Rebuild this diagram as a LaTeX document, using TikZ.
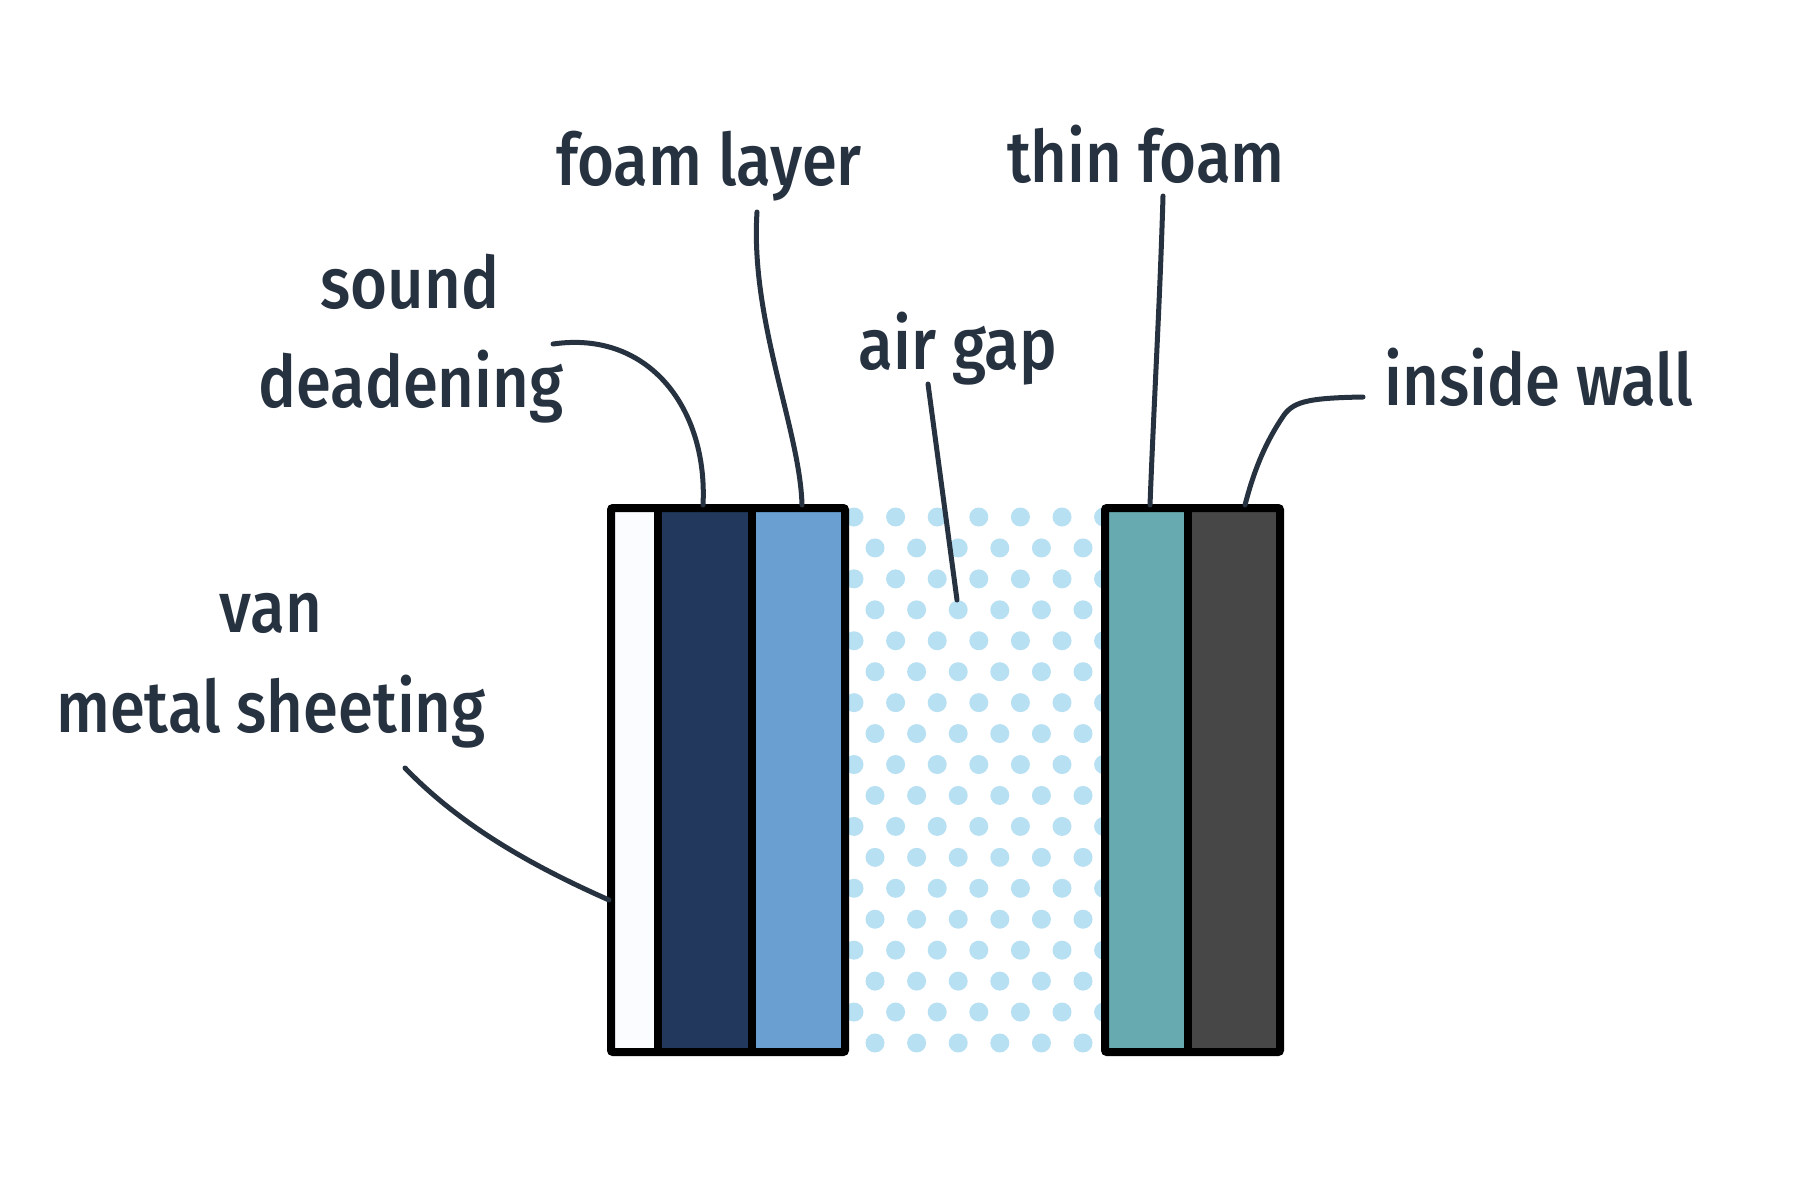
\documentclass[tikz,border=0pt]{standalone}
\usepackage{fontspec}
\newfontfamily\labfont{Fira Sans Medium}[FakeStretch=0.88]
\definecolor{txt}{HTML}{273241}
\definecolor{metalc}{HTML}{FAFCFF}
\definecolor{deadc}{HTML}{22395D}
\definecolor{foamc}{HTML}{6A9FD2}
\definecolor{thinc}{HTML}{67ABB0}
\definecolor{wallc}{HTML}{474747}
\definecolor{dotc}{HTML}{B8E0F3}
\begin{document}
\begin{tikzpicture}[x=0.01cm,y=-0.01cm,
  lab/.style={font=\labfont\fontsize{20.5}{24}\selectfont, text=txt, anchor=base, inner sep=0pt},
  leader/.style={draw=txt, line width=0.05cm, line cap=round},
  border/.style={draw=black, line width=0.08cm, rounded corners=0.02cm},
  divider/.style={draw=black, line width=0.08cm}]
\useasboundingbox (0,0) rectangle (1800,1200);
\fill[white] (0,0) rectangle (1800,1200);
% air gap dots
\begin{scope}
  \clip (845,495) rectangle (1105,1065);
  \foreach \r in {0,...,17}{
    \pgfmathsetmacro{\yy}{517+\r*30.94}
    \pgfmathsetmacro{\xs}{ifthenelse(mod(\r,2)==0,854,875)}
    \foreach \k in {0,...,6}{
      \fill[dotc] ({\xs+\k*41.6},\yy) circle[radius=9.5];
    }
  }
\end{scope}
% left stack
\fill[metalc] (611,508) rectangle (658,1052);
\fill[deadc] (658,508) rectangle (752,1052);
\fill[foamc] (752,508) rectangle (845,1052);
\draw[divider] (658,508) -- (658,1052);
\draw[divider] (752,508) -- (752,1052);
\draw[border] (611,508) rectangle (845,1052);
% right stack
\fill[thinc] (1105,508) rectangle (1188,1052);
\fill[wallc] (1188,508) rectangle (1280,1052);
\draw[divider] (1188,508) -- (1188,1052);
\draw[border] (1105,508) rectangle (1280,1052);
% labels
\node[lab] (foam) at (709,185) {foam layer};
\node[lab] (thin) at (1146,182) {thin foam};
\node[lab] (sound) at (410,308) {sound};
\node[lab] (dead) at (411,407) {deadening};
\node[lab] (air) at (958,369) {air gap};
\node[lab] (wall) at (1539,405) {inside wall};
\node[lab] (van) at (271,632) {van};
\node[lab] (metal) at (271,732) {metal sheeting};
% connector end points
\coordinate (deadS) at (553,344);
\coordinate (deadE) at (703,505);
\coordinate (foamS) at (757,212);
\coordinate (foamE) at (802,505);
\coordinate (airS) at (928,384);
\coordinate (airE) at (957,600);
\coordinate (thinS) at (1163,196);
\coordinate (thinE) at (1150,505);
\coordinate (wallS) at (1363,397);
\coordinate (wallE) at (1245,505);
\coordinate (metalS) at (405,768);
\coordinate (metalE) at (609,900);
% connectors
\draw[leader] (deadS) .. controls (650,330) and (708,410) .. (deadE);
\draw[leader] (foamS) .. controls (750,320) and (800,430) .. (foamE);
\draw[leader] (airS) -- (airE);
\draw[leader] (thinS) .. controls (1160,300) and (1154,400) .. (thinE);
\draw[leader] (wallS) .. controls (1305,398) and (1292,402) .. (1282,418) .. controls (1262,448) and (1252,478) .. (wallE);
\draw[leader] (metalS) .. controls (460,825) and (530,865) .. (metalE);
\end{tikzpicture}
\end{document}
